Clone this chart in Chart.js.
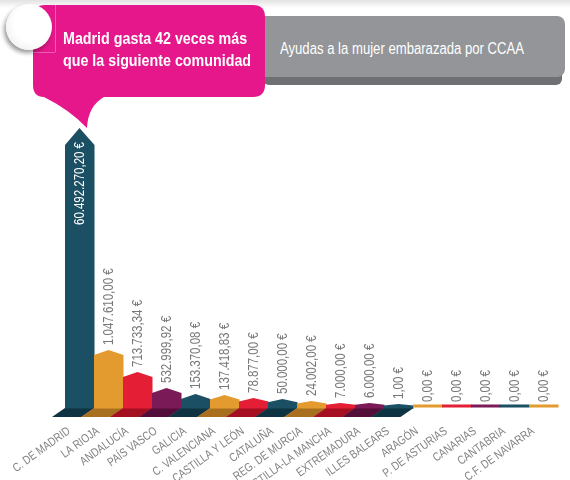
<!DOCTYPE html>
<html>
<head>
<meta charset="utf-8">
<script src="https://cdn.jsdelivr.net/npm/chart.js@4.4.1/dist/chart.umd.min.js"></script>
<style>
  body { margin: 0; width: 570px; height: 480px; overflow: hidden; position: relative; background: #fff;
         font-family: 'Liberation Sans', Arial, sans-serif; }
  #chartBox { position: absolute; left: 0; top: 0; width: 570px; height: 480px; }
  #topFade { position: absolute; left: 0; top: 0; width: 570px; height: 8px; background: linear-gradient(#e2e2e2, #fff); }
  #grayShadow { position: absolute; left: 263px; top: 66px; width: 299px; height: 19px; background: #6f7073; border-radius: 0 0 6px 6px; }
  #grayBox { position: absolute; left: 255px; top: 16px; width: 310px; height: 61px; background: #939598; border-radius: 0 8px 8px 0; }
  #title { position: absolute; left: 280px; top: 39px; color: #fff; font-size: 16px; line-height: 20px; white-space: nowrap;
           transform: scaleX(0.82); transform-origin: 0 0; }
  #callout { position: absolute; left: 0; top: 0; }
  #headline { position: absolute; left: 63px; top: 28px; color: #fff; font-weight: bold; font-size: 17px; line-height: 22px; white-space: nowrap;
              transform: scaleX(0.84); transform-origin: 0 0; }
  .frame { position: absolute; background: rgba(255,255,255,0.3); }
  #badge { position: absolute; left: 6px; top: 4px; width: 46px; height: 46px; border-radius: 50%;
           background: radial-gradient(circle at 58% 42%, #fff 50%, #e6e6e6 100%);
           box-shadow: -2px 3px 4px rgba(0,0,0,0.4); }
</style>
</head>
<body>
<div id="chartBox"><canvas id="chart"></canvas></div>
<div id="topFade"></div>
<div id="grayShadow"></div>
<div id="grayBox"></div>
<div id="title">Ayudas a la mujer embarazada por CCAA</div>
<svg id="callout" width="280" height="135">
  <path d="M45 5 H253 Q265 5 265 17 V85 Q265 97 253 97 H104 Q88 106 87 128 Q70 110 44 97 Q33 97 33 85 V17 Q33 5 45 5 Z" fill="#e5178b"/>
</svg>
<div class="frame" style="left:55px;top:5px;width:1px;height:47px"></div>
<div class="frame" style="left:33px;top:52px;width:22px;height:1px"></div>
<div id="badge"></div>
<div id="headline">Madrid gasta 42 veces más<br>que la siguiente comunidad</div>

<script>
// comunidades, ordered as in the picture
const regions = ['C. DE MADRID', 'LA RIOJA', 'ANDALUCÍA', 'PAÍS VASCO', 'GALICIA', 'C. VALENCIANA',
  'CASTILLA Y LEÓN', 'CATALUÑA', 'REG. DE MURCIA', 'CASTILLA-LA MANCHA', 'EXTREMADURA',
  'ILLES BALEARS', 'ARAGÓN', 'P. DE ASTURIAS', 'CANARIAS', 'CANTABRIA', 'C.F. DE NAVARRA'];

// euros printed above each bar
const amounts = [60492270.20, 1047610.00, 713733.34, 532999.92, 153370.08, 137418.83,
  78877.00, 50000.00, 24002.00, 7000.00, 6000.00, 1.00, 0, 0, 0, 0, 0];

// bar heights as drawn in the picture (not to scale with the amounts)
const barHeights = [280, 58, 36, 20, 14, 13, 10, 9, 7, 5, 5, 4, 0, 0, 0, 0, 0];

const teal = ['#1b4f63', '#0e3443'];
const orange = ['#e39b2f', '#a86f1f'];
const red = ['#e31e35', '#a50f22'];
const purple = ['#7a1a56', '#520d38'];
const palette = [teal, orange, red, purple, teal, orange, red, teal, orange, red, purple,
  teal, orange, red, purple, teal, orange];

function euro(v) {
  const parts = v.toFixed(2).split('.');
  return parts[0].replace(/\B(?=(\d{3})+(?!\d))/g, '.') + ',' + parts[1] + ' €';
}

const FONT = "'Liberation Sans', Arial, sans-serif";
const NARROW = 0.82; // squeeze text to look like a condensed face

const housePlugin = {
  id: 'houses',
  afterDatasetsDraw(chart) {
    const ctx = chart.ctx;
    const meta = chart.getDatasetMeta(0);
    const xScale = chart.scales.x;
    const base = chart.scales.y.getPixelForValue(0);
    meta.data.forEach((bar, i) => {
      const p = bar.getProps(['x', 'y', 'width'], true);
      const l = p.x - p.width / 2, r = p.x + p.width / 2;
      const h = base - p.y;
      const roof = h > 100 ? 17 : Math.min(5, h * 0.35);
      ctx.save();
      if (amounts[i] > 0) {
        // floor piece
        ctx.fillStyle = palette[i][1];
        ctx.beginPath();
        ctx.moveTo(l, base);
        ctx.lineTo(r + 0.5, base);
        ctx.lineTo(r - 12.5, base + 9);
        ctx.lineTo(l - 13, base + 9);
        ctx.closePath();
        ctx.fill();
        // house shaped bar
        ctx.fillStyle = palette[i][0];
        ctx.beginPath();
        ctx.moveTo(l, base + 0.5);
        ctx.lineTo(l, p.y + roof);
        ctx.lineTo(p.x, p.y);
        ctx.lineTo(r + 0.5, p.y + roof);
        ctx.lineTo(r + 0.5, base + 0.5);
        ctx.closePath();
        ctx.fill();
      } else {
        ctx.fillStyle = palette[i][0];
        ctx.fillRect(l, base - 3.5, p.width + 0.5, 3);
      }
      ctx.restore();

      // value label, vertical
      ctx.save();
      ctx.font = '14px ' + FONT;
      ctx.textBaseline = 'middle';
      let anchor;
      if (i === 0) {
        ctx.fillStyle = '#ffffff';
        ctx.textAlign = 'right';
        anchor = p.y + roof - 3;
      } else {
        ctx.fillStyle = '#77787b';
        ctx.textAlign = 'left';
        anchor = amounts[i] > 0 ? p.y - 5 : base - 6;
      }
      ctx.translate(p.x + 1, anchor);
      ctx.rotate(-Math.PI / 2);
      ctx.scale(NARROW, 1);
      ctx.fillText(euro(amounts[i]), 0, 0);
      ctx.restore();

      // category label, slanted
      ctx.save();
      ctx.font = '12px ' + FONT;
      ctx.fillStyle = '#808285';
      ctx.textAlign = 'right';
      ctx.textBaseline = 'top';
      ctx.translate(xScale.getPixelForTick(i) - 14, base + 17);
      ctx.rotate(-36 * Math.PI / 180);
      ctx.scale(NARROW, 1);
      ctx.fillText(regions[i], 0, 0);
      ctx.restore();
    });
  }
};

new Chart(document.getElementById('chart'), {
  type: 'bar',
  data: {
    labels: regions,
    datasets: [{
      data: barHeights,
      backgroundColor: 'rgba(0,0,0,0)',
      barPercentage: 1,
      categoryPercentage: 1
    }]
  },
  options: {
    responsive: true,
    maintainAspectRatio: false,
    animation: false,
    layout: { padding: { left: 65, right: 12, top: 128, bottom: 0 } },
    plugins: { legend: { display: false }, tooltip: { enabled: false } },
    scales: {
      x: {
        grid: { display: false },
        border: { display: false },
        afterFit: (axis) => { axis.height = 72; },
        ticks: { display: false }
      },
      y: { display: false, min: 0, max: 280 }
    }
  },
  plugins: [housePlugin]
});
</script>
</body>
</html>
